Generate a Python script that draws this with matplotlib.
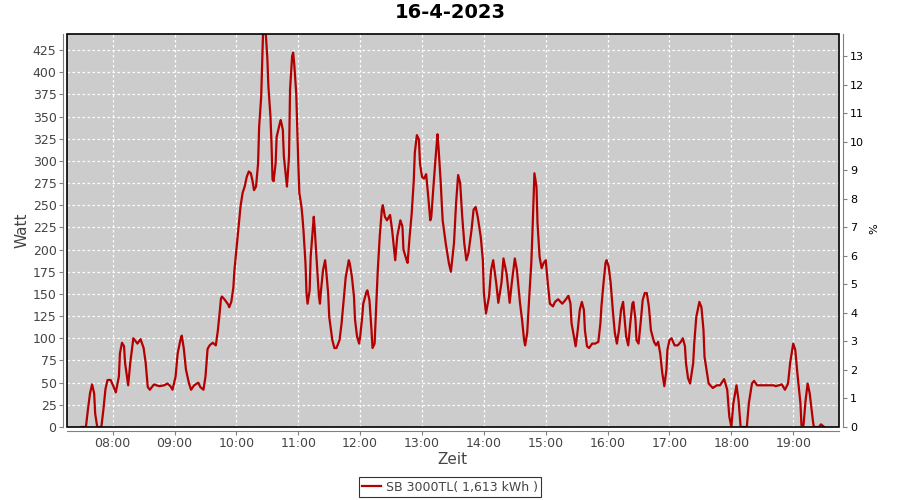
import matplotlib
matplotlib.use('Agg')
import matplotlib.pyplot as plt
import matplotlib.dates as mdates
import pandas as pd
from matplotlib.patches import Rectangle

day = "2023-04-16"
title = "16-4-2023"
series_label = "SB 3000TL( 1,613 kWh )"

# readings of the day (time of day, Watt)
times = [
    "07:30", "07:34", "07:36", "07:38", "07:40", "07:42", "07:43", "07:45", "07:49", "07:51",
    "07:53", "07:55", "07:58", "08:01", "08:03", "08:06", "08:07", "08:09", "08:11", "08:12",
    "08:15", "08:17", "08:19", "08:20", "08:24", "08:27", "08:30", "08:32", "08:34", "08:36",
    "08:40", "08:45", "08:50", "08:53", "08:56", "08:58", "09:01", "09:03", "09:06", "09:07",
    "09:09", "09:11", "09:14", "09:16", "09:19", "09:23", "09:25", "09:28", "09:30", "09:32",
    "09:34", "09:37", "09:40", "09:42", "09:44", "09:45", "09:46", "09:49", "09:52", "09:53",
    "09:55", "09:57", "09:58", "10:00", "10:02", "10:04", "10:06", "10:08", "10:10", "10:12",
    "10:14", "10:16", "10:17", "10:19", "10:21", "10:22", "10:24", "10:25", "10:26", "10:28",
    "10:30", "10:31", "10:33", "10:34", "10:35", "10:36", "10:38", "10:39", "10:42", "10:43",
    "10:45", "10:46", "10:48", "10:49", "10:51", "10:52", "10:54", "10:55", "10:56", "10:58",
    "10:59", "11:00", "11:01", "11:03", "11:04", "11:05", "11:07", "11:08", "11:09", "11:11",
    "11:12", "11:14", "11:15", "11:16", "11:18", "11:20", "11:21", "11:22", "11:24", "11:26",
    "11:27", "11:29", "11:30", "11:33", "11:35", "11:37", "11:40", "11:42", "11:44", "11:46",
    "11:49", "11:50", "11:52", "11:54", "11:55", "11:57", "11:59", "12:00", "12:02", "12:03",
    "12:06", "12:07", "12:09", "12:11", "12:12", "12:14", "12:15", "12:16", "12:17", "12:19",
    "12:21", "12:22", "12:24", "12:26", "12:29", "12:31", "12:33", "12:34", "12:36", "12:39",
    "12:41", "12:42", "12:45", "12:46", "12:48", "12:50", "12:52", "12:53", "12:55", "12:57",
    "12:58", "13:00", "13:02", "13:04", "13:06", "13:08", "13:09", "13:11", "13:13", "13:15",
    "13:16", "13:18", "13:20", "13:23", "13:26", "13:28", "13:31", "13:33", "13:35", "13:37",
    "13:39", "13:41", "13:43", "13:45", "13:48", "13:50", "13:52", "13:54", "13:57", "13:59",
    "14:00", "14:02", "14:05", "14:07", "14:09", "14:12", "14:14", "14:17", "14:19", "14:22",
    "14:25", "14:27", "14:30", "14:32", "14:35", "14:37", "14:39", "14:40", "14:42", "14:44",
    "14:46", "14:47", "14:48", "14:49", "14:51", "14:52", "14:54", "14:56", "14:58", "15:00",
    "15:02", "15:04", "15:07", "15:09", "15:12", "15:16", "15:19", "15:22", "15:24", "15:25",
    "15:28", "15:29", "15:31", "15:33", "15:35", "15:37", "15:38", "15:40", "15:42", "15:45",
    "15:48", "15:51", "15:53", "15:54", "15:56", "15:58", "15:59", "16:01", "16:03", "16:05",
    "16:07", "16:09", "16:11", "16:13", "16:15", "16:16", "16:18", "16:20", "16:22", "16:24",
    "16:25", "16:27", "16:28", "16:30", "16:32", "16:34", "16:36", "16:38", "16:40", "16:42",
    "16:45", "16:47", "16:49", "16:51", "16:53", "16:55", "16:57", "16:58", "17:00", "17:02",
    "17:05", "17:08", "17:11", "17:13", "17:15", "17:16", "17:18", "17:20", "17:23", "17:24",
    "17:26", "17:28", "17:29", "17:31", "17:33", "17:34", "17:36", "17:38", "17:42", "17:46",
    "17:49", "17:53", "17:56", "17:58", "18:00", "18:02", "18:05", "18:07", "18:09", "18:15",
    "18:17", "18:20", "18:22", "18:25", "18:33", "18:41", "18:43", "18:46", "18:49", "18:52",
    "18:55", "18:57", "19:00", "19:02", "19:04", "19:07", "19:08", "19:10", "19:12", "19:14",
    "19:16", "19:19", "19:20", "19:25", "19:27", "19:30",
]
watts = [
    0, 0, 20, 38, 48, 38, 15, 0, 0, 20,
    43, 53, 53, 45, 39, 57, 83, 95, 91, 72,
    47, 72, 91, 100, 94, 99, 89, 72, 45, 42,
    48, 46, 47, 49, 46, 42, 57, 83, 100, 103,
    88, 65, 49, 42, 47, 50, 45, 42, 57, 88,
    92, 95, 92, 109, 132, 145, 147, 143, 138, 135,
    141, 157, 176, 200, 223, 249, 264, 271, 282, 288,
    286, 275, 267, 271, 297, 338, 372, 410, 452, 452,
    415, 384, 350, 320, 279, 277, 297, 327, 342, 346,
    335, 305, 282, 271, 305, 380, 418, 422, 410, 376,
    335, 297, 264, 249, 237, 222, 184, 150, 139, 154,
    192, 222, 237, 222, 184, 147, 139, 154, 177, 188,
    177, 150, 124, 98, 89, 89, 98, 117, 143, 169,
    188, 184, 169, 147, 121, 102, 94, 102, 124, 139,
    152, 154, 143, 109, 89, 94, 121, 147, 175, 215,
    245, 250, 237, 233, 239, 222, 200, 188, 215, 233,
    226, 200, 188, 185, 215, 241, 278, 309, 329, 324,
    297, 282, 280, 285, 260, 233, 237, 270, 301, 330,
    315, 278, 233, 207, 185, 175, 207, 252, 284, 275,
    237, 207, 188, 196, 222, 245, 248, 237, 214, 188,
    151, 128, 147, 177, 188, 162, 140, 162, 190, 173,
    140, 162, 190, 177, 140, 121, 98, 92, 106, 147,
    185, 216, 252, 286, 271, 230, 192, 179, 185, 188,
    162, 139, 136, 141, 144, 139, 143, 148, 139, 117,
    98, 91, 109, 132, 141, 132, 109, 91, 89, 94,
    94, 96, 117, 136, 162, 185, 188, 181, 162, 132,
    106, 94, 109, 132, 141, 128, 102, 92, 117, 139,
    141, 121, 98, 94, 117, 143, 151, 151, 136, 109,
    96, 92, 96, 83, 61, 46, 64, 87, 98, 100,
    92, 92, 96, 100, 91, 72, 55, 49, 72, 94,
    124, 135, 141, 135, 109, 79, 64, 49, 44, 47,
    47, 54, 42, 12, 0, 27, 47, 30, 0, 0,
    27, 49, 52, 47, 47, 47, 46, 47, 48, 42,
    49, 72, 94, 87, 61, 27, 2, 2, 30, 49,
    38, 8, 0, 0, 3, 0,
]

watt_ticks = list(range(0, 426, 25))
pct_ticks = list(range(0, 14))
watt_max = 443
pct_max = 13.77

x_dates = pd.to_datetime([day + " " + t for t in times])
x_min = pd.Timestamp(day + " 07:15:40")
x_max = pd.Timestamp(day + " 19:44:25")

plt.rcParams['font.family'] = ['DejaVu Sans']

fig = plt.figure(figsize=(9, 5), dpi=100)
fig.patch.set_facecolor('white')
ax = fig.add_axes([67 / 900, 1 - 427 / 500, (839 - 67) / 900, (427 - 34) / 500])
ax.set_facecolor('#cccccc')

line, = ax.plot(x_dates, watts, color='#b40000', linewidth=1.6, zorder=3)

ax.set_xlim(x_min, x_max)
ax.set_ylim(0, watt_max)
ax.set_yticks(watt_ticks)
ax.xaxis.set_major_locator(mdates.HourLocator())
ax.xaxis.set_major_formatter(mdates.DateFormatter('%H:%M'))
ax.grid(True, color='white', linestyle=(0, (2, 2)), linewidth=0.9)
ax.set_axisbelow(True)

for s in ['top', 'right']:
    ax.spines[s].set_visible(False)
for s in ['left', 'bottom']:
    ax.spines[s].set_position(('outward', 3))
    ax.spines[s].set_color('#808080')
ax.tick_params(axis='both', colors='#808080', labelcolor='#444444',
               labelsize=9, length=3, width=0.8, pad=1.5)

ax2 = ax.twinx()
ax2.set_ylim(0, pct_max)
ax2.set_yticks(pct_ticks)
for s in ['top', 'left', 'bottom']:
    ax2.spines[s].set_visible(False)
ax2.spines['right'].set_position(('outward', 3))
ax2.spines['right'].set_color('#808080')
ax2.tick_params(axis='y', colors='#808080', labelcolor='black',
                labelsize=8, length=3, width=0.8, pad=2)

# black frame round the plot area
ax.add_patch(Rectangle((0, 0), 1, 1, transform=ax.transAxes, fill=False,
                       edgecolor='black', linewidth=1.2, zorder=6, clip_on=False))

fig.text(0.5, 1 - 13 / 500, title, ha='center', va='center',
         fontsize=14, fontweight='bold')
fig.text(22 / 900, 1 - 230 / 500, "Watt", rotation=90, ha='center', va='center',
         fontsize=11, color='#444444')
fig.text(452 / 900, 1 - 460 / 500, "Zeit", ha='center', va='center',
         fontsize=11, color='#444444')
fig.text(874 / 900, 1 - 229 / 500, "%", rotation=90, ha='center', va='center',
         fontsize=8)

leg = fig.legend([line], [series_label], loc='center', bbox_to_anchor=(0.5, 1 - 487 / 500),
                 fontsize=9, frameon=True, fancybox=False, edgecolor='black',
                 borderpad=0.25, handlelength=1.5, handletextpad=0.4, borderaxespad=0)
leg.get_frame().set_linewidth(0.8)
for t in leg.get_texts():
    t.set_color('#444444')

fig.savefig('out.png', dpi=100)
